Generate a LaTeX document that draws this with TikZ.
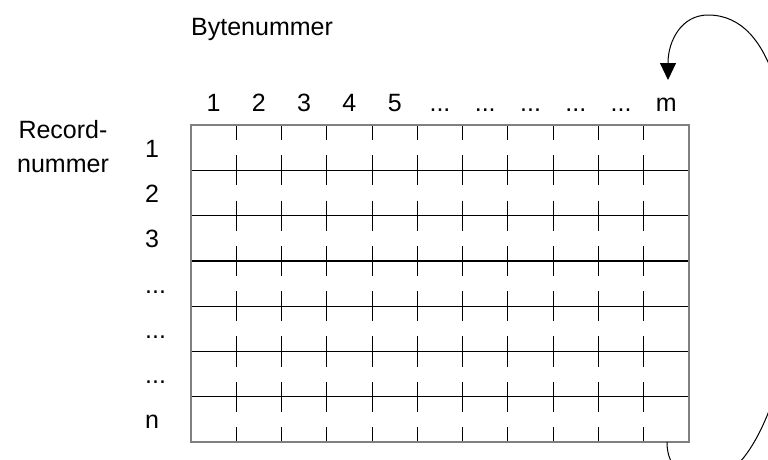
\documentclass[tikz,border=0pt]{standalone}
\usepackage{fontspec}
\setmainfont{Liberation Sans}
\usetikzlibrary{arrows.meta}
\def\ddd{...}
\begin{document}
\begin{tikzpicture}[x=1pt,y=1pt,
  lab/.style={inner sep=0pt, font=\fontsize{25}{30}\selectfont},
  hline/.style={line width=1.3pt, black},
  vtick/.style={line width=1pt, black, dash pattern=on 30.2pt off 15.1pt, dash phase=15.1pt},
  frame/.style={line width=1.3pt, black!50},
  loopline/.style={line width=1pt, black}]
\useasboundingbox (0,0) rectangle (768,-459);
% grid
\foreach \j in {1,...,6}
  \draw[hline] (191,{-125-45.3*\j}) -- (689,{-125-45.3*\j});
\foreach \i in {1,...,10}
  \draw[vtick] ({191+45.27*\i},-125) -- ({191+45.27*\i},-442);
\draw[frame] (191,-125) rectangle (689,-442);
% labels
\node[lab,anchor=base west] (byte) at (191,-35) {Bytenummer};
\node[lab,anchor=base] (rec1) at (63,-138) {Record-};
\node[lab,anchor=base] (rec2) at (63,-172) {nummer};
\foreach \t [count=\i] in {1,2,3,4,5,\ddd,\ddd,\ddd,\ddd,\ddd,m}
  \node[lab,anchor=base] (c\i) at ({191+45.27*(\i-0.5)},-111) {\t};
\foreach \t [count=\j] in {1,2,3,\ddd,\ddd,\ddd,n}
  \node[lab,anchor=base west] (r\j) at (145,{-125-45.3*(\j-0.5)-9.5}) {\t};
% loop arrow
\coordinate (tail) at (667,-442);
\coordinate (tip) at (668,-80);
\begin{scope}
\clip (0,0) rectangle (768,-459);
\draw[loopline, -{Triangle[length=17pt,width=16pt]}] (tail)
  .. controls (667,-470) and (685,-478) .. (712,-478)
  .. controls (750,-478) and (795,-380) .. (795,-260)
  .. controls (795,-120) and (775,-15) .. (708,-15)
  .. controls (682,-15) and (668,-40) .. (tip);
\end{scope}
\end{tikzpicture}
\end{document}
